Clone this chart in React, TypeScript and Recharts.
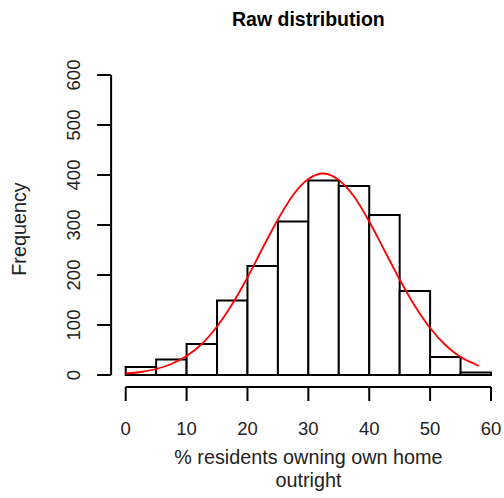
import { ComposedChart, Line, XAxis, YAxis, ReferenceArea, ReferenceLine, Customized } from "recharts";

// Histogram bins (% residents owning own home outright)
const binEdges = [0, 5, 10, 15, 20, 25, 30, 35, 40, 45, 50, 55, 60];
const binCounts = [16, 31, 62, 149, 218, 307, 389, 378, 320, 168, 36, 5];

// Fitted normal curve
const curveX = [0, 2.5, 5, 7.5, 10, 12.5, 15, 17.5, 20, 22.5, 25, 27.5, 30, 32.5, 35, 37.5, 40, 42.5, 45, 47.5, 50, 52.5, 55, 57.5, 58];
const curveY = [3, 6, 12, 22, 38, 62, 97, 142, 195, 254, 311, 360, 392, 403, 390, 357, 307, 249, 191, 138, 94, 60, 36, 21, 18];

const xTicks = [0, 10, 20, 30, 40, 50, 60];
const yTicks = [0, 100, 200, 300, 400, 500, 600];

const FONT = '"Liberation Sans", Arial, Helvetica, sans-serif';
const TEXT = "#222";

const curveData = curveX.map((x, i) => ({ x, y: curveY[i] }));

const YTick = (props: any) => {
  const { x, y, payload } = props;
  return (
    <text
      x={x}
      y={y}
      transform={`rotate(-90 ${x} ${y})`}
      textAnchor="middle"
      fontSize={18.5}
      fontFamily={FONT}
      fill={TEXT}
    >
      {payload.value}
    </text>
  );
};

const Titles = () => (
  <g fontFamily={FONT} fill={TEXT}>
    <text x={308.4} y={26} textAnchor="middle" fontSize={19.5} fontWeight="bold" fill="#000">
      Raw distribution
    </text>
    <text x={308.4} y={463.5} textAnchor="middle" fontSize={19.8}>
      % residents owning own home
    </text>
    <text x={308.4} y={486.8} textAnchor="middle" fontSize={19.8}>
      outright
    </text>
    <text x={26} y={229} textAnchor="middle" fontSize={19.8} transform="rotate(-90 26 229)">
      Frequency
    </text>
  </g>
);

export default function App() {
  return (
    <div style={{ position: "absolute", left: 0, top: 0, width: 504, height: 498, overflow: "hidden", background: "#fff" }}>
      <ComposedChart
        width={510}
        height={498}
        data={curveData}
        margin={{ top: 63, right: 4.4, bottom: 0, left: 0 }}
      >
        <XAxis
          type="number"
          dataKey="x"
          domain={[-2.4, 62.4]}
          ticks={xTicks}
          allowDataOverflow
          height={111}
          axisLine={false}
          tickSize={14}
          tickMargin={21}
          tickLine={{ stroke: "#000", strokeWidth: 2 }}
          tick={{ fontSize: 18.5, fontFamily: FONT, fill: TEXT }}
          interval={0}
        />
        <YAxis
          type="number"
          domain={[-24, 624]}
          ticks={yTicks}
          allowDataOverflow
          width={111.1}
          axisLine={false}
          tickSize={14}
          tickMargin={17}
          tickLine={{ stroke: "#000", strokeWidth: 2 }}
          tick={<YTick />}
          interval={0}
        />
        {binCounts.map((c, i) => (
          <ReferenceArea
            key={i}
            x1={binEdges[i]}
            x2={binEdges[i + 1]}
            y1={0}
            y2={c}
            fill="#fff"
            fillOpacity={1}
            stroke="#000"
            strokeWidth={2}
            ifOverflow="visible"
          />
        ))}
        <ReferenceLine
          segment={[{ x: 0, y: -24 }, { x: 60, y: -24 }]}
          stroke="#000"
          strokeWidth={2}
          ifOverflow="visible"
        />
        <ReferenceLine
          segment={[{ x: -2.4, y: 0 }, { x: -2.4, y: 600 }]}
          stroke="#000"
          strokeWidth={2}
          ifOverflow="visible"
        />
        <Line
          type="monotone"
          dataKey="y"
          stroke="#ff0000"
          strokeWidth={1.8}
          dot={false}
          activeDot={false}
          isAnimationActive={false}
        />
        <Customized component={<Titles />} />
      </ComposedChart>
    </div>
  );
}
